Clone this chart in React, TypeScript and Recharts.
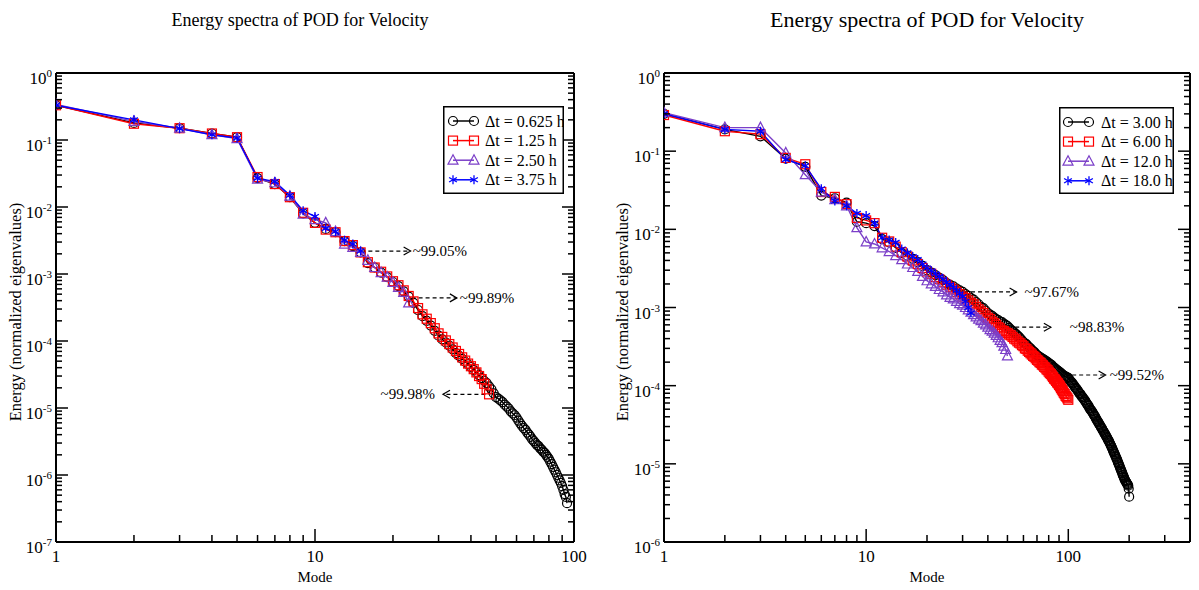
import React from 'react';
import { LineChart, Line, XAxis, YAxis, ReferenceLine, Legend } from 'recharts';

const FONT = '"Liberation Serif", "Times New Roman", Times, serif';

// ---------------- Left panel data ----------------
const LEFT_TITLE = 'Energy spectra of POD for Velocity';
const LEFT_LABELS = ['Δt = 0.625 h', 'Δt = 1.25 h', 'Δt = 2.50 h', 'Δt = 3.75 h'];
const LEFT_X_TICKS = [1, 2, 3, 4, 5, 6, 7, 8, 9, 10, 20, 30, 40, 50, 60, 70, 80, 90, 100];
const LEFT_Y_DECADES = [1e-7, 1e-6, 1e-5, 1e-4, 1e-3, 1e-2, 1e-1, 1];

const LEFT_A = [
  0.33, 0.18, 0.15, 0.125, 0.11, 0.027, 0.022, 0.014, 0.008, 0.0058,
  0.0047, 0.0042, 0.0031, 0.0026, 0.0021, 0.00145, 0.00125, 0.00105, 0.0009, 0.00076,
  6.6e-4, 5.5e-4, 4.6e-4, 3.7e-4, 2.9e-4, 2.35e-4, 2.0e-4, 1.7e-4, 1.42e-4, 1.2e-4,
  1.06e-4, 9.5e-5, 8.5e-5, 7.5e-5, 6.6e-5, 6.0e-5, 5.4e-5, 4.9e-5, 4.5e-5, 4.1e-5,
  3.7e-5, 3.4e-5, 3.1e-5, 2.8e-5, 2.55e-5, 2.35e-5, 2.1e-5, 1.9e-5, 1.65e-5, 1.45e-5,
  1.38e-5, 1.3e-5, 1.22e-5, 1.12e-5, 1.05e-5, 9.8e-6, 8.9e-6, 8.3e-6, 7.8e-6, 7.2e-6,
  6.5e-6, 5.9e-6, 5.4e-6, 5.0e-6, 4.7e-6, 4.3e-6, 4.0e-6, 3.7e-6, 3.4e-6, 3.2e-6,
  3.0e-6, 2.8e-6, 2.7e-6, 2.5e-6, 2.4e-6, 2.24e-6, 2.14e-6, 2.0e-6, 1.86e-6, 1.74e-6,
  1.58e-6, 1.45e-6, 1.32e-6, 1.2e-6, 1.1e-6, 1.0e-6, 9.1e-7, 8.3e-7, 7.6e-7, 6.8e-7,
  6.0e-7, 5.2e-7, 4.7e-7, 3.8e-7,
];
const LEFT_B = [
  0.33, 0.175, 0.15, 0.125, 0.11, 0.028, 0.022, 0.014, 0.0082, 0.0058,
  0.0046, 0.0042, 0.0031, 0.0027, 0.0021, 0.0015, 0.00125, 0.00108, 0.00092, 0.00078,
  6.8e-4, 5.7e-4, 4.7e-4, 3.9e-4, 3.1e-4, 2.5e-4, 2.15e-4, 1.85e-4, 1.55e-4, 1.3e-4,
  1.15e-4, 1.02e-4, 9.0e-5, 8.0e-5, 7.1e-5, 6.4e-5, 5.7e-5, 5.1e-5, 4.6e-5, 4.2e-5,
  3.8e-5, 3.4e-5, 3.0e-5, 2.7e-5, 2.3e-5, 1.9e-5, 1.6e-5,
];
const LEFT_C = [
  0.34, 0.19, 0.15, 0.12, 0.105, 0.026, 0.023, 0.0145, 0.0078, 0.0065,
  0.0058, 0.0043, 0.0028, 0.0025, 0.0021, 0.0016, 0.00125, 0.00105, 0.0009, 0.00075,
  0.00063, 0.00053, 0.00037,
];
const LEFT_D = [
  0.33, 0.2, 0.148, 0.12, 0.107, 0.027, 0.024, 0.015, 0.0088, 0.0072,
  0.0048, 0.0043, 0.0032, 0.0028, 0.0022,
];
const LEFT_NOTES = [
  { text: '~99.05%', from: [15.1, 2.2e-3], to: [23.4, 2.2e-3], gap: 2 },
  { text: '~99.89%', from: [23.6, 4.4e-4], to: [35.3, 4.4e-4], gap: 3 },
  { text: '~99.98%', from: [45.5, 1.6e-5], to: [31.2, 1.6e-5], gap: 8 },
];

// ---------------- Right panel data ----------------
const RIGHT_TITLE = 'Energy spectra of POD for Velocity';
const RIGHT_LABELS = ['Δt = 3.00 h', 'Δt = 6.00 h', 'Δt = 12.0 h', 'Δt = 18.0 h'];
const RIGHT_X_TICKS = [1, 2, 3, 4, 5, 6, 7, 8, 9, 10, 20, 30, 40, 50, 60, 70, 80, 90, 100, 200, 300];
const RIGHT_Y_DECADES = [1e-6, 1e-5, 1e-4, 1e-3, 1e-2, 1e-1, 1];

const RIGHT_A = [
  0.30, 0.19, 0.155, 0.080, 0.063, 0.027, 0.025, 0.022, 0.0125, 0.012,
  0.011, 0.0075, 0.0068, 0.0058, 0.0050, 0.0046, 0.0042, 0.0038, 0.0034, 0.0030,
  2.8e-3, 2.6e-3, 2.4e-3, 2.24e-3, 2.05e-3, 1.95e-3, 1.86e-3, 1.74e-3, 1.66e-3, 1.58e-3,
  1.48e-3, 1.41e-3, 1.32e-3, 1.26e-3, 1.17e-3, 1.1e-3, 1.02e-3, 9.8e-4, 9.1e-4, 8.5e-4,
  8.1e-4, 7.8e-4, 7.4e-4, 7.1e-4, 6.9e-4, 6.6e-4, 6.5e-4, 6.2e-4, 6.0e-4, 5.8e-4,
  5.5e-4, 5.2e-4, 5.0e-4, 4.8e-4, 4.6e-4, 4.4e-4, 4.2e-4, 4.0e-4, 3.8e-4, 3.6e-4,
  3.47e-4, 3.39e-4, 3.24e-4, 3.09e-4, 3.0e-4, 2.88e-4, 2.75e-4, 2.69e-4, 2.57e-4, 2.45e-4,
  2.4e-4, 2.34e-4, 2.29e-4, 2.24e-4, 2.19e-4, 2.14e-4, 2.09e-4, 2.04e-4, 2.0e-4, 1.95e-4,
  1.9e-4, 1.86e-4, 1.82e-4, 1.74e-4, 1.7e-4, 1.66e-4, 1.62e-4, 1.58e-4, 1.55e-4, 1.51e-4,
  1.48e-4, 1.45e-4, 1.41e-4, 1.38e-4, 1.35e-4, 1.32e-4, 1.31e-4, 1.29e-4, 1.27e-4, 1.26e-4,
  1.2e-4, 1.17e-4, 1.12e-4, 1.1e-4, 1.07e-4, 1.02e-4, 1.0e-4, 9.5e-5, 9.3e-5, 9.1e-5,
  8.7e-5, 8.5e-5, 8.1e-5, 7.9e-5, 7.8e-5, 7.4e-5, 7.2e-5, 7.1e-5, 6.8e-5, 6.6e-5,
  6.5e-5, 6.2e-5, 6.0e-5, 5.8e-5, 5.6e-5, 5.5e-5, 5.2e-5, 5.1e-5, 4.9e-5, 4.8e-5,
  4.7e-5, 4.5e-5, 4.4e-5, 4.2e-5, 4.1e-5, 4.0e-5, 3.8e-5, 3.7e-5, 3.55e-5, 3.47e-5,
  3.4e-5, 3.24e-5, 3.16e-5, 3.09e-5, 2.95e-5, 2.88e-5, 2.82e-5, 2.69e-5, 2.63e-5, 2.57e-5,
  2.45e-5, 2.4e-5, 2.34e-5, 2.24e-5, 2.19e-5, 2.14e-5, 2.04e-5, 2.0e-5, 1.95e-5, 1.86e-5,
  1.82e-5, 1.74e-5, 1.7e-5, 1.62e-5, 1.58e-5, 1.51e-5, 1.45e-5, 1.41e-5, 1.35e-5, 1.32e-5,
  1.26e-5, 1.23e-5, 1.17e-5, 1.15e-5, 1.1e-5, 1.05e-5, 1.02e-5, 9.8e-6, 9.5e-6, 9.1e-6,
  8.7e-6, 8.5e-6, 8.1e-6, 7.9e-6, 7.6e-6, 7.2e-6, 7.1e-6, 6.8e-6, 6.6e-6, 6.3e-6,
  6.2e-6, 6.0e-6, 5.9e-6, 5.75e-6, 5.6e-6, 5.5e-6, 5.4e-6, 5.25e-6, 4.8e-6, 3.8e-6,
];
const RIGHT_B = [
  0.29, 0.18, 0.165, 0.082, 0.068, 0.030, 0.026, 0.021, 0.014, 0.013,
  0.012, 0.0078, 0.0070, 0.0060, 0.0051, 4.5e-3, 4.0e-3, 3.6e-3, 3.2e-3, 2.9e-3,
  2.7e-3, 2.45e-3, 2.3e-3, 2.1e-3, 1.95e-3, 1.82e-3, 1.7e-3, 1.58e-3, 1.48e-3, 1.38e-3,
  1.32e-3, 1.23e-3, 1.15e-3, 1.1e-3, 1.02e-3, 9.5e-4, 8.9e-4, 8.5e-4, 7.9e-4, 7.4e-4,
  7.1e-4, 6.6e-4, 6.3e-4, 6.0e-4, 5.6e-4, 5.4e-4, 5.1e-4, 5.0e-4, 4.8e-4, 4.7e-4,
  4.5e-4, 4.4e-4, 4.2e-4, 4.0e-4, 3.9e-4, 3.7e-4, 3.55e-4, 3.47e-4, 3.3e-4, 3.2e-4,
  3.0e-4, 2.95e-4, 2.8e-4, 2.7e-4, 2.6e-4, 2.5e-4, 2.4e-4, 2.34e-4, 2.24e-4, 2.14e-4,
  2.09e-4, 2.0e-4, 1.95e-4, 1.86e-4, 1.82e-4, 1.74e-4, 1.7e-4, 1.62e-4, 1.58e-4, 1.51e-4,
  1.45e-4, 1.41e-4, 1.35e-4, 1.29e-4, 1.23e-4, 1.2e-4, 1.15e-4, 1.1e-4, 1.07e-4, 1.02e-4,
  9.8e-5, 9.3e-5, 8.9e-5, 8.5e-5, 8.1e-5, 7.8e-5, 7.4e-5, 7.2e-5, 6.9e-5, 6.6e-5,
];
const RIGHT_C = [
  0.31, 0.20, 0.20, 0.095, 0.050, 0.030, 0.024, 0.020, 0.0105, 0.0069,
  0.0065, 0.0058, 0.0052, 0.0046, 0.0041, 3.6e-3, 3.25e-3, 2.9e-3, 2.5e-3, 2.2e-3,
  2.0e-3, 1.86e-3, 1.7e-3, 1.58e-3, 1.45e-3, 1.35e-3, 1.29e-3, 1.2e-3, 1.12e-3, 1.07e-3,
  1.0e-3, 9.3e-4, 8.7e-4, 8.1e-4, 7.6e-4, 7.1e-4, 6.8e-4, 6.3e-4, 6.0e-4, 5.6e-4,
  5.2e-4, 5.0e-4, 4.7e-4, 4.4e-4, 4.1e-4, 3.8e-4, 3.55e-4, 3.2e-4, 2.9e-4, 2.4e-4,
];
const RIGHT_D = [
  0.30, 0.19, 0.18, 0.078, 0.065, 0.033, 0.023, 0.020, 0.016, 0.015,
  0.012, 0.0078, 0.0073, 0.0068, 0.0056, 5.0e-3, 4.5e-3, 4.1e-3, 3.6e-3, 3.2e-3,
  2.95e-3, 2.7e-3, 2.5e-3, 2.3e-3, 2.1e-3, 1.95e-3, 1.8e-3, 1.65e-3, 1.5e-3, 1.38e-3,
  1.2e-3, 1.0e-3, 8.5e-4,
];
const RIGHT_NOTES = [
  { text: '~97.67%', from: [30.5, 1.58e-3], to: [55.5, 1.58e-3], gap: 8 },
  { text: '~98.83%', from: [43, 5.6e-4], to: [82, 5.6e-4], gap: 19 },
  { text: '~99.52%', from: [96.5, 1.37e-4], to: [153, 1.37e-4], gap: 4 },
];

const COLORS = ['#000000', '#ff0000', '#7b3fc8', '#0000ff'];
const SHAPES = ['circle', 'square', 'triangle', 'star'];

// ---------------- helpers ----------------
const isDecade = (v: number) => {
  const l = Math.log10(v);
  return Math.abs(l - Math.round(l)) < 1e-6;
};

const toPoints = (values: number[]) => values.map((y, i) => ({ x: i + 1, y }));

function Marker({ shape, cx, cy, color }: any) {
  if (cx == null || cy == null || isNaN(cx) || isNaN(cy)) return null;
  const sw = 1.2;
  if (shape === 'circle') return <circle cx={cx} cy={cy} r={4.5} fill="none" stroke={color} strokeWidth={sw} />;
  if (shape === 'square')
    return <rect x={cx - 4.5} y={cy - 4.5} width={9} height={9} fill="none" stroke={color} strokeWidth={sw} />;
  if (shape === 'triangle')
    return (
      <polygon
        points={`${cx},${cy - 5.5} ${cx - 5},${cy + 4} ${cx + 5},${cy + 4}`}
        fill="none"
        stroke={color}
        strokeWidth={sw}
      />
    );
  const r = 4.5;
  const a = r * 0.866;
  const b = r * 0.5;
  return (
    <g stroke={color} strokeWidth={1.3}>
      <line x1={cx} y1={cy - r} x2={cx} y2={cy + r} />
      <line x1={cx - a} y1={cy - b} x2={cx + a} y2={cy + b} />
      <line x1={cx - a} y1={cy + b} x2={cx + a} y2={cy - b} />
    </g>
  );
}

function makeArrowShape(text: string, gap: number) {
  return (props: any) => {
    const { x1, y1, x2 } = props;
    if (x1 == null || x2 == null) return <g />;
    const dir = x2 >= x1 ? 1 : -1;
    const y = y1;
    return (
      <g>
        <line x1={x1} y1={y} x2={x2} y2={y} stroke="#000" strokeWidth={1.2} strokeDasharray="4 3" />
        <polyline
          points={`${x2 - dir * 7},${y - 4} ${x2},${y} ${x2 - dir * 7},${y + 4}`}
          fill="none"
          stroke="#000"
          strokeWidth={1.2}
        />
        <text
          x={x2 + dir * gap}
          y={y + 5}
          textAnchor={dir > 0 ? 'start' : 'end'}
          fontFamily={FONT}
          fontSize={15}
          fill="#000"
        >
          {text}
        </text>
      </g>
    );
  };
}

type Plot = { l: number; r: number; t: number; b: number };

function LegendBox({ labels, box, sx1, sx2, tx }: any) {
  return (
    <svg width={box.w} height={box.h} style={{ display: 'block' }}>
      <rect x={0.75} y={0.75} width={box.w - 1.5} height={box.h - 1.5} fill="#fff" stroke="#000" strokeWidth={1.5} />
      {labels.map((lab: string, i: number) => {
        const y = 15 + i * 19.6;
        return (
          <g key={lab}>
            <line x1={sx1} y1={y} x2={sx2} y2={y} stroke={COLORS[i]} strokeWidth={1.5} />
            <Marker shape={SHAPES[i]} cx={sx1} cy={y} color={COLORS[i]} />
            <Marker shape={SHAPES[i]} cx={sx2} cy={y} color={COLORS[i]} />
            <text x={tx} y={y + 5.5} fontFamily={FONT} fontSize={16} fill="#000">
              {lab}
            </text>
          </g>
        );
      })}
    </svg>
  );
}

function Panel(p: any) {
  const plot: Plot = p.plot;
  const width: number = p.width;
  const yMinor: number[] = [];
  p.yDecades.forEach((d: number) => {
    if (d < 1) for (let m = 2; m <= 9; m++) yMinor.push(m * d);
  });
  const yTicks = [...p.yDecades, ...yMinor].sort((a, b) => a - b);

  const XTickB = (tp: any) => {
    const { x, payload } = tp;
    const v = payload.value;
    const major = isDecade(v);
    return (
      <g>
        <line x1={x} x2={x} y1={plot.b} y2={plot.b - (major ? 13 : 7)} stroke="#000" strokeWidth={1.5} />
        {major && (
          <text x={x} y={plot.b + 20} textAnchor="middle" fontFamily={FONT} fontSize={17} fill="#000">
            {String(v)}
          </text>
        )}
      </g>
    );
  };
  const XTickT = (tp: any) => {
    const { x, payload } = tp;
    const major = isDecade(payload.value);
    return <line x1={x} x2={x} y1={plot.t} y2={plot.t + (major ? 13 : 7)} stroke="#000" strokeWidth={1.5} />;
  };
  const YTickL = (tp: any) => {
    const { y, payload } = tp;
    const v = payload.value;
    const major = isDecade(v);
    const exp = Math.round(Math.log10(v));
    return (
      <g>
        <line x1={plot.l} x2={plot.l + (major ? 12 : 6)} y1={y} y2={y} stroke="#000" strokeWidth={1.5} />
        {major && (
          <text x={plot.l - 4} y={y + 11} textAnchor="end" fontFamily={FONT} fontSize={17} fill="#000">
            10
            <tspan dy={-7} fontSize={11}>
              {String(exp)}
            </tspan>
          </text>
        )}
      </g>
    );
  };
  const YTickR = (tp: any) => {
    const { y, payload } = tp;
    const major = isDecade(payload.value);
    return <line x1={plot.r} x2={plot.r - (major ? 12 : 6)} y1={y} y2={y} stroke="#000" strokeWidth={1.5} />;
  };

  const series = p.series as number[][];
  const axisLine = { stroke: '#000', strokeWidth: 2 };

  return (
    <div style={{ position: 'absolute', left: p.offsetX, top: 0, width, height: 590 }}>
      <div
        style={{
          position: 'absolute',
          left: p.titleX - 300,
          width: 600,
          top: 20 - p.titleSize / 2,
          textAlign: 'center',
          fontFamily: FONT,
          fontSize: p.titleSize,
          lineHeight: 1,
          whiteSpace: 'nowrap',
          color: '#000',
        }}
      >
        {p.title}
      </div>
      <div
        style={{
          position: 'absolute',
          left: (plot.l + plot.r) / 2,
          top: 577,
          transform: 'translate(-50%, -50%)',
          fontFamily: FONT,
          fontSize: 15,
          whiteSpace: 'nowrap',
          color: '#000',
        }}
      >
        Mode
      </div>
      <div
        style={{
          position: 'absolute',
          left: p.yLabelX,
          top: 312,
          transform: 'translate(-50%, -50%) rotate(-90deg)',
          fontFamily: FONT,
          fontSize: 16.5,
          whiteSpace: 'nowrap',
          color: '#000',
        }}
      >
        Energy (normalized eigenvalues)
      </div>
      <LineChart
        width={width}
        height={590}
        margin={{ top: plot.t - 1, left: plot.l - 50, right: width - plot.r - 1, bottom: 590 - plot.b - 30 }}
      >
        <XAxis
          xAxisId="x"
          dataKey="x"
          type="number"
          scale="log"
          domain={p.xDomain}
          allowDataOverflow
          ticks={p.xTicks}
          interval={0}
          tick={XTickB}
          tickLine={false}
          tickSize={0}
          axisLine={axisLine}
          height={30}
          orientation="bottom"
        />
        <XAxis
          xAxisId="xt"
          type="number"
          scale="log"
          domain={p.xDomain}
          allowDataOverflow
          ticks={p.xTicks}
          interval={0}
          tick={XTickT}
          tickLine={false}
          tickSize={0}
          axisLine={axisLine}
          height={1}
          orientation="top"
        />
        <YAxis
          yAxisId="y"
          type="number"
          scale="log"
          domain={p.yDomain}
          allowDataOverflow
          ticks={yTicks}
          interval={0}
          tick={YTickL}
          tickLine={false}
          tickSize={0}
          axisLine={axisLine}
          width={50}
          orientation="left"
        />
        <YAxis
          yAxisId="yr"
          type="number"
          scale="log"
          domain={p.yDomain}
          allowDataOverflow
          ticks={yTicks}
          interval={0}
          tick={YTickR}
          tickLine={false}
          tickSize={0}
          axisLine={axisLine}
          width={1}
          orientation="right"
        />
        {series.map((vals, i) => (
          <Line
            key={p.labels[i]}
            name={p.labels[i]}
            xAxisId="x"
            yAxisId="y"
            data={toPoints(vals)}
            dataKey="y"
            stroke={COLORS[i]}
            strokeWidth={1.4}
            isAnimationActive={false}
            activeDot={false}
            dot={(dp: any) => (
              <Marker key={`m${i}-${dp.index}`} shape={SHAPES[i]} cx={dp.cx} cy={dp.cy} color={COLORS[i]} />
            )}
          />
        ))}
        {p.notes.map((n: any) => (
          <ReferenceLine
            key={n.text}
            xAxisId="x"
            yAxisId="y"
            segment={[
              { x: n.from[0], y: n.from[1] },
              { x: n.to[0], y: n.to[1] },
            ]}
            ifOverflow="visible"
            shape={makeArrowShape(n.text, n.gap)}
          />
        ))}
        <Legend
          layout="horizontal"
          verticalAlign="middle"
          align="center"
          wrapperStyle={{
            left: p.legend.x,
            top: p.legend.y,
            width: p.legend.w,
            height: p.legend.h,
            right: 'auto',
            bottom: 'auto',
          }}
          content={() => (
            <LegendBox
              labels={p.labels}
              box={p.legend}
              sx1={p.legend.sx1}
              sx2={p.legend.sx2}
              tx={p.legend.tx}
            />
          )}
        />
      </LineChart>
    </div>
  );
}

export default function App() {
  return (
    <div style={{ position: 'absolute', left: 0, top: 0, width: 1199, height: 590, background: '#fff' }}>
      <Panel
        offsetX={0}
        width={600}
        plot={{ l: 56, r: 574, t: 73, b: 542 }}
        xDomain={[1, 100]}
        yDomain={[1e-7, 1]}
        xTicks={LEFT_X_TICKS}
        yDecades={LEFT_Y_DECADES}
        series={[LEFT_A, LEFT_B, LEFT_C, LEFT_D]}
        labels={LEFT_LABELS}
        notes={LEFT_NOTES}
        title={LEFT_TITLE}
        titleX={300}
        titleSize={18}
        yLabelX={16}
        legend={{ x: 443, y: 106, w: 121, h: 88, sx1: 10, sx2: 31, tx: 42 }}
      />
      <Panel
        offsetX={600}
        width={599}
        plot={{ l: 64, r: 590, t: 73, b: 542 }}
        xDomain={[1, 400]}
        yDomain={[1e-6, 1]}
        xTicks={RIGHT_X_TICKS}
        yDecades={RIGHT_Y_DECADES}
        series={[RIGHT_A, RIGHT_B, RIGHT_C, RIGHT_D]}
        labels={RIGHT_LABELS}
        notes={RIGHT_NOTES}
        title={RIGHT_TITLE}
        titleX={327}
        titleSize={22}
        yLabelX={23}
        legend={{ x: 459, y: 107, w: 115, h: 87, sx1: 9, sx2: 30, tx: 42 }}
      />
    </div>
  );
}
